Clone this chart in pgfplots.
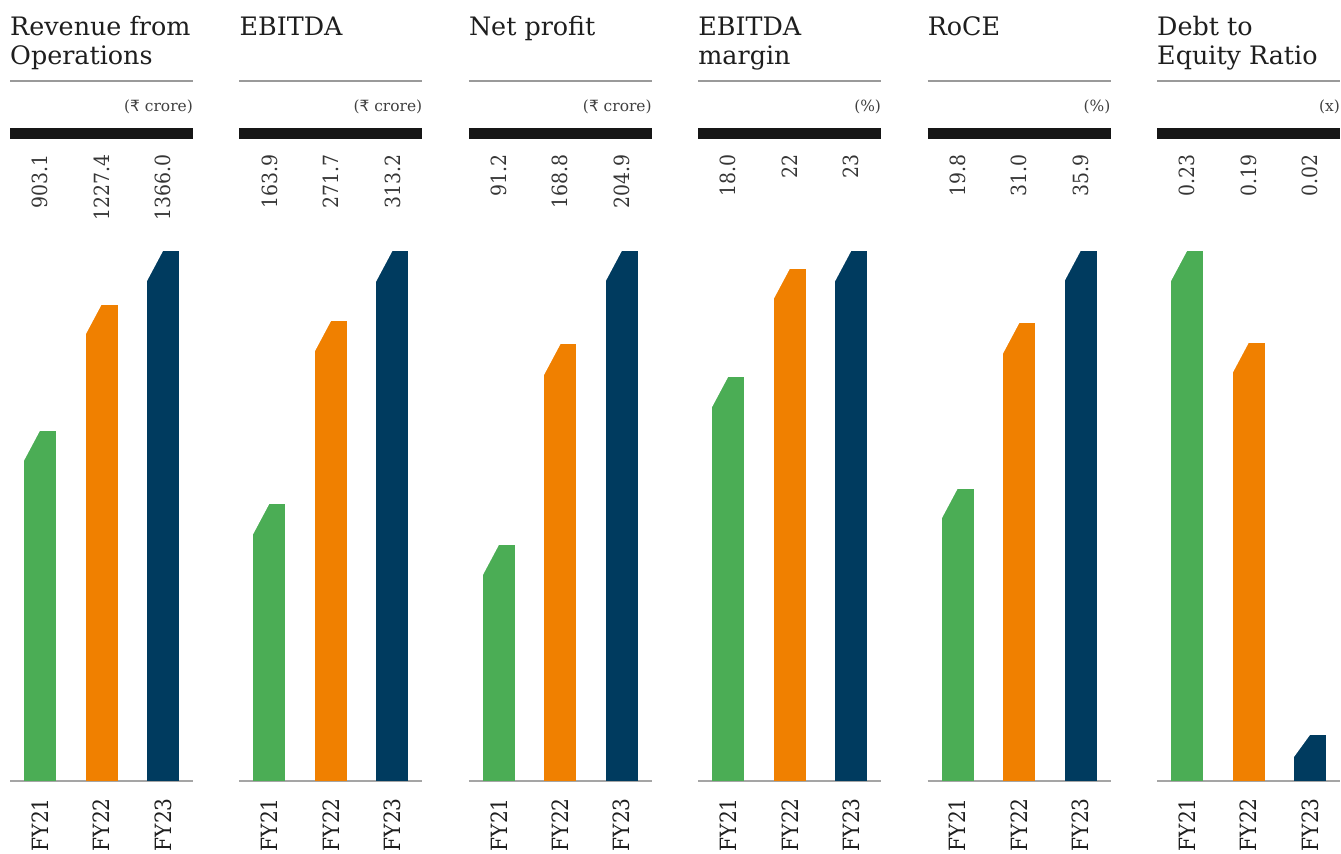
\documentclass[border=0pt]{standalone}
\usepackage{pgfplots}
\pgfplotsset{compat=1.18}
\usepackage{fontspec}
\setmainfont{DejaVu Serif}
\newfontfamily\condfont{DejaVu Serif Condensed}
\newfontfamily\rupeefont{DejaVu Sans}
\definecolor{cgreen}{HTML}{4BAD55}
\definecolor{corange}{HTML}{F08000}
\definecolor{cnavy}{HTML}{003B5F}
\definecolor{linegray}{HTML}{9A9A9A}
\definecolor{basegray}{HTML}{A5A5A5}
\definecolor{txt}{HTML}{1E1E1E}
\definecolor{barblack}{HTML}{161616}
\newcommand\rupee{{\rupeefont ₹}}
% white triangles that cut the top-left corner of each bar
\newcommand\chamA{\tikz\fill[white] (-17bp,-31.875bp) -- (0.533bp,1bp) -- (-17bp,1bp) -- cycle;}
\newcommand\chamB{\tikz\fill[white] (-17bp,-23.375bp) -- (0.727bp,1bp) -- (-17bp,1bp) -- cycle;}
\tikzset{
  tl/.style={anchor=base west, inner sep=0pt, font=\fontsize{25.5}{30}\selectfont, text=txt},
  unit/.style={anchor=base east, inner sep=0pt, font=\fontsize{15.5}{18}\selectfont, text=txt!85},
  val/.style={rotate=90, anchor=east, inner sep=0pt, font=\condfont\fontsize{21}{24}\selectfont, text=txt!90},
}
\pgfplotsset{
  panel/.style={
    scale only axis, width=183bp, height=530bp, anchor=south west, clip=false,
    xmin=-0.488, xmax=2.488, ymin=0,
    axis x line*=bottom, axis y line=none,
    x axis line style={draw=basegray, line width=1.8bp, -},
    xtick={0,1,2}, xticklabels={FY21,FY22,FY23}, major tick length=0pt,
    xticklabel style={rotate=90, anchor=east, inner ysep=0pt, inner xsep=17bp,
      font=\condfont\fontsize{22.5}{26}\selectfont, text=txt},
    ytick=\empty,
    ybar, bar width=32bp, bar shift=0pt,
    nodes near coords={\chamA},
    every node near coord/.append style={anchor=north west, inner sep=0pt, outer sep=0pt, xshift=-17bp, yshift=1bp},
  },
}
\newcommand\decor[6]{%
  \node[tl] at (rel axis cs:0,1.4075) {#1};
  \node[tl] at (rel axis cs:0,1.351) {#2};
  \draw[linegray, line width=1.2bp] (rel axis cs:0,1.3208) -- (rel axis cs:1,1.3208);
  \node[unit] at (rel axis cs:1,1.264) {#3};
  \draw[barblack, line width=11bp] (rel axis cs:0,1.2217) -- (rel axis cs:1,1.2217);
  \node[val] at (rel axis cs:0.164,1.183) {#4};
  \node[val] at (rel axis cs:0.5,1.183) {#5};
  \node[val] at (rel axis cs:0.836,1.183) {#6};
}
\begin{document}
\begin{tikzpicture}
\useasboundingbox (0,0) rectangle (1341bp,854bp);

% Revenue from Operations
\begin{axis}[panel, at={(10bp,73bp)}, ymax=1366.0]
\addplot[fill=cgreen, draw=none] coordinates {(0,903.1)};
\addplot[fill=corange, draw=none] coordinates {(1,1227.4)};
\addplot[fill=cnavy, draw=none] coordinates {(2,1366.0)};
\decor{Revenue from}{Operations}{(\rupee\ crore)}{903.1}{1227.4}{1366.0}
\end{axis}

% EBITDA
\begin{axis}[panel, at={(239.4bp,73bp)}, ymax=313.2]
\addplot[fill=cgreen, draw=none] coordinates {(0,163.9)};
\addplot[fill=corange, draw=none] coordinates {(1,271.7)};
\addplot[fill=cnavy, draw=none] coordinates {(2,313.2)};
\decor{EBITDA}{}{(\rupee\ crore)}{163.9}{271.7}{313.2}
\end{axis}

% Net profit
\begin{axis}[panel, at={(468.8bp,73bp)}, ymax=204.9]
\addplot[fill=cgreen, draw=none] coordinates {(0,91.2)};
\addplot[fill=corange, draw=none] coordinates {(1,168.8)};
\addplot[fill=cnavy, draw=none] coordinates {(2,204.9)};
\decor{Net profit}{}{(\rupee\ crore)}{91.2}{168.8}{204.9}
\end{axis}

% EBITDA margin
\begin{axis}[panel, at={(698.2bp,73bp)}, ymax=23.6]
\addplot[fill=cgreen, draw=none] coordinates {(0,18.0)};
\addplot[fill=corange, draw=none] coordinates {(1,22.8)};
\addplot[fill=cnavy, draw=none] coordinates {(2,23.6)};
\decor{EBITDA}{margin}{(\%)}{18.0}{22}{23}
\end{axis}

% RoCE
\begin{axis}[panel, at={(927.6bp,73bp)}, ymax=35.9]
\addplot[fill=cgreen, draw=none] coordinates {(0,19.8)};
\addplot[fill=corange, draw=none] coordinates {(1,31.0)};
\addplot[fill=cnavy, draw=none] coordinates {(2,35.9)};
\decor{RoCE}{}{(\%)}{19.8}{31.0}{35.9}
\end{axis}

% Debt to Equity Ratio
\begin{axis}[panel, at={(1157bp,73bp)}, ymax=0.23]
\addplot[fill=cgreen, draw=none] coordinates {(0,0.23)};
\addplot[fill=corange, draw=none] coordinates {(1,0.19)};
\addplot[fill=cnavy, draw=none, nodes near coords={\chamB}] coordinates {(2,0.02)};
\decor{Debt to}{Equity Ratio}{(x)}{0.23}{0.19}{0.02}
\end{axis}
\end{tikzpicture}
\end{document}
